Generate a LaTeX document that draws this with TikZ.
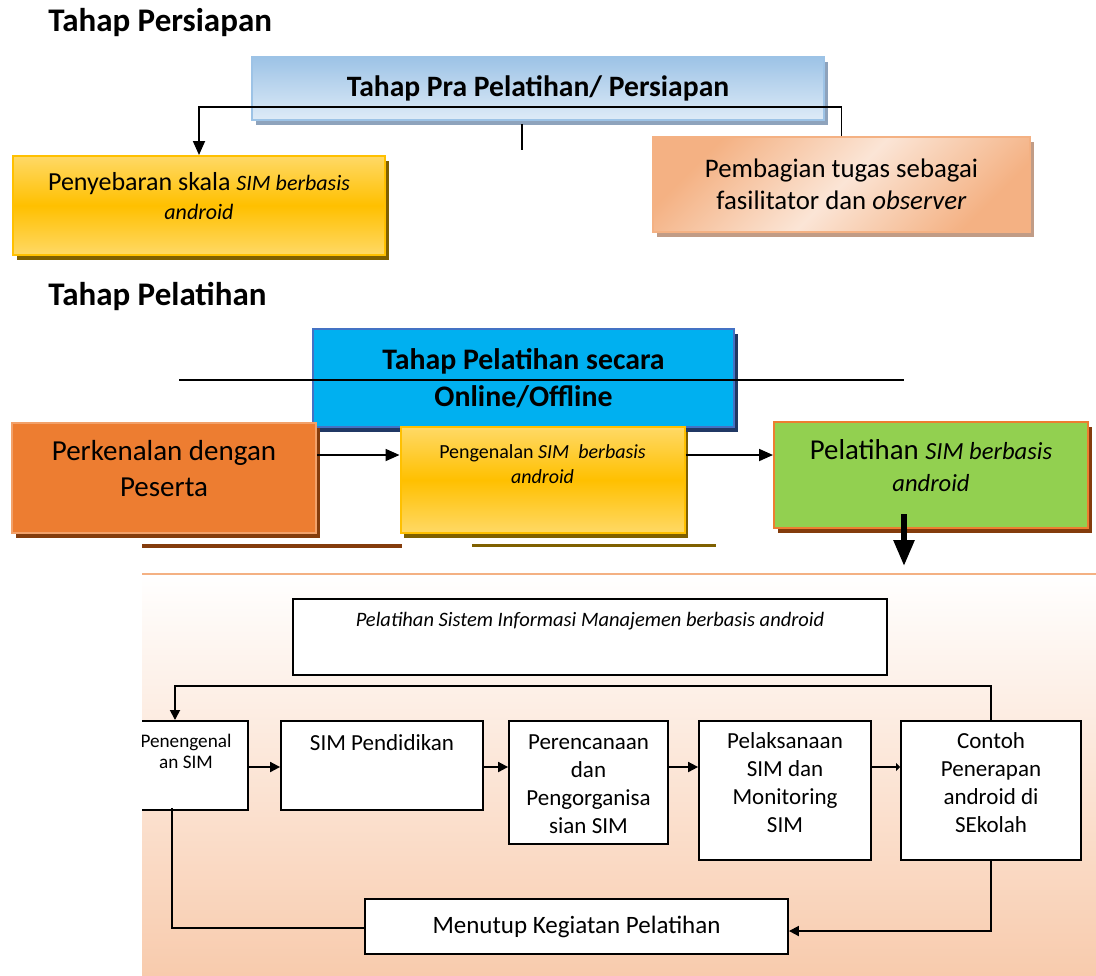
\documentclass[tikz,border=0pt]{standalone}
\usepackage{fontspec}
\setmainfont{Carlito}
\usetikzlibrary{calc,shadows}
\usetikzlibrary{arrows.meta}

\definecolor{gold}{HTML}{FFC000}
\definecolor{goldlight}{HTML}{FFD966}
\definecolor{goldshadow}{HTML}{7F6000}
\definecolor{skytop}{HTML}{9DC3E6}
\definecolor{skybottom}{HTML}{DEEBF7}
\definecolor{skyshadow}{HTML}{8EA3BC}
\definecolor{peach}{HTML}{F4B183}
\definecolor{peachlight}{HTML}{FBE5D6}
\definecolor{peachshadow}{HTML}{C19C86}
\definecolor{cyanfill}{HTML}{00B0F0}
\definecolor{cyanline}{HTML}{4472C4}
\definecolor{navyshadow}{HTML}{203864}
\definecolor{rust}{HTML}{ED7D31}
\definecolor{rustshadow}{HTML}{843C0C}
\definecolor{lime}{HTML}{92D050}
\definecolor{panelbottom}{HTML}{F8CBAD}

\begin{document}
\begin{tikzpicture}[x=0.5pt, y=-0.5pt, >={Triangle[length=7pt,width=6pt]},
  title/.style={anchor=west, inner sep=0pt, font=\fontsize{16.5}{19}\selectfont\bfseries},
  box/.style={rectangle, align=flush center, inner sep=1pt},
  boxdrop/.style={drop shadow={shadow xshift=1.8pt, shadow yshift=-2.5pt, fill=#1, opacity=1}},
  goldbox/.style={box, draw=gold, line width=1pt, top color=goldlight, bottom color=goldlight, middle color=gold, boxdrop=goldshadow},
  simbox/.style={draw=black, line width=0.9pt, fill=white, inner sep=0pt, align=flush center, font=\fontsize{11.5}{14}\selectfont},
  link/.style={line width=0.9pt},
  small/.style={line width=0.9pt, >={Triangle[length=5pt,width=5pt]}}]

  \useasboundingbox (0,0) rectangle (1096,975);

  % tahap persiapan
  \node[title] (h1) at (48,23) {Tahap Persiapan};
  \node[box, minimum width=286pt, minimum height=31.5pt, draw=skytop, line width=1pt, top color=skytop, bottom color=skybottom, boxdrop=skyshadow, font=\fontsize{14.8}{17}\selectfont\bfseries] (pra) at (538,88.5) {Tahap Pra Pelatihan/ Persiapan};
  \node[goldbox, anchor=north, text width=184pt, inner ysep=0pt, text height=17pt, text depth=32.5pt, font=\fontsize{13}{14.5}\selectfont] (sebar) at (199,155)
    {Penyebaran skala {\fontsize{11}{14.5}\selectfont\itshape SIM berbasis}\\{\fontsize{11}{14.5}\selectfont\itshape android}};
  \node[box, minimum width=188.5pt, minimum height=47.5pt, draw=peach, line width=1pt, top color=peach, bottom color=peach, middle color=peachlight, shading angle=45, boxdrop=peachshadow, font=\fontsize{13.4}{16}\selectfont] (bagi) at (841.5,184.5)
    {Pembagian tugas sebagai\\fasilitator dan \textit{observer}};

  \coordinate (split) at (199,107);
  \coordinate (stub) at (522,150);
  \draw[link,->] (bagi.north) |- (split) -- (sebar.north);
  \draw[link] (stub |- pra.south) ++(0,3) -- (stub);

  % tahap pelatihan
  \node[title] (h2) at (48,296) {Tahap Pelatihan};
  \node[box, minimum width=210.5pt, minimum height=49pt, fill=cyanfill, draw=cyanline, line width=1pt, boxdrop=navyshadow, font=\fontsize{14.9}{18.5}\selectfont\bfseries] (online) at (523.5,378)
    {Tahap Pelatihan secara\\Online/Offline};
  \node[box, anchor=north, text width=150pt, inner ysep=0pt, text height=18.5pt, text depth=36.5pt, fill=rust, draw=peach!70!rust, line width=1pt, boxdrop=rustshadow, font=\fontsize{14.5}{18}\selectfont] (kenal) at (164,422)
    {Perkenalan dengan\\Peserta};
  \node[goldbox, anchor=north, text width=140pt, inner ysep=0pt, text height=15.5pt, text depth=37.5pt, font=\fontsize{10}{12.5}\selectfont] (ngenal) at (542.5,426)
    {Pengenalan \textit{SIM\ \ berbasis}\\\textit{android}};
  \node[box, anchor=north, text width=155pt, inner ysep=0pt, text height=18.5pt, text depth=34.5pt, fill=lime, draw=rust, line width=1pt, boxdrop=rustshadow, font=\fontsize{14.4}{16}\selectfont] (latih) at (931,421)
    {Pelatihan {\fontsize{12.3}{16}\selectfont\itshape SIM berbasis}\\{\fontsize{12.3}{16}\selectfont\itshape android}};

  \coordinate (rule l) at (179,380);
  \coordinate (rule r) at (904,380);
  \coordinate (flow) at (0,455);
  \coordinate (drop) at (904,566);
  \draw[link] (rule l) -- (rule r);
  \draw[link,->] (kenal.east |- flow) -- (ngenal.west |- flow);
  \draw[link,->] (ngenal.east |- flow) -- (latih.west |- flow);
  \draw[line width=2.8pt, -{Triangle[length=13pt,width=10pt]}] ([yshift=7.5pt]latih.south -| drop) -- (drop);
  \draw[rustshadow, line width=2pt] (142,546) -- (402,546);
  \draw[goldshadow, line width=1.5pt] (472,545) -- (716,545);

  % rincian pelatihan
  \shade[top color=white, bottom color=panelbottom] (142,574) rectangle (1096,975);
  \draw[peach, line width=1pt] (142,574) -- (1096,574);
  \begin{scope}
    \clip (142,574) rectangle (1096,975);
    \node[simbox, anchor=north, minimum width=297pt, text height=14pt, text depth=24pt, font=\fontsize{10.25}{12}\selectfont\itshape] (judul) at (590,598)
      {Pelatihan Sistem Informasi Manajemen berbasis android};
    \node[simbox, anchor=north, text width=62pt, text height=13.5pt, text depth=31pt, font=\fontsize{9.6}{10.5}\selectfont] (penal) at (186,720)
      {Penengenal\\an SIM};
    \node[simbox, anchor=north, minimum width=101pt, text height=15pt, text depth=29.5pt] (simp) at (382,720) {SIM Pendidikan};
    \node[simbox, anchor=north, text width=79.5pt, text height=14.5pt, text depth=47pt] (renc) at (588.5,720)
      {Perencanaan\\dan\\Pengorganisa\\sian SIM};
    \node[simbox, anchor=north, text width=86pt, text height=14pt, text depth=55.5pt] (laks) at (785,720)
      {Pelaksanaan\\SIM dan\\Monitoring\\SIM};
    \node[simbox, anchor=north, text width=90pt, text height=14pt, text depth=55.5pt] (contoh) at (991,720)
      {Contoh\\Penerapan\\android di\\SEkolah};
    \node[simbox, minimum width=211.5pt, minimum height=27.5pt, font=\fontsize{12.5}{14}\selectfont] (tutup) at (576.5,926.5)
      {Menutup Kegiatan Pelatihan};
  \end{scope}

  \coordinate (row) at (0,767);
  \coordinate (loop) at (175,686);
  \coordinate (down) at (172,928);
  \coordinate (back) at (991,931);
  \draw[small,->] (penal.east |- row) -- (simp.west |- row);
  \draw[small,->] (simp.east |- row) -- (renc.west |- row);
  \draw[small,->] (renc.east |- row) -- (laks.west |- row);
  \draw[small,-{Triangle[length=2pt,width=4pt]}] (laks.east |- row) -- (contoh.west |- row);
  \draw[small,->] (contoh.north) |- (loop) -- (loop |- penal.north);
  \draw[small] (down |- penal.south) ++(0,-3) -- (down) -- (tutup.west |- down);
  \draw[small,->] (contoh.south) -- (back) -- (tutup.east |- back);
\end{tikzpicture}
\end{document}
